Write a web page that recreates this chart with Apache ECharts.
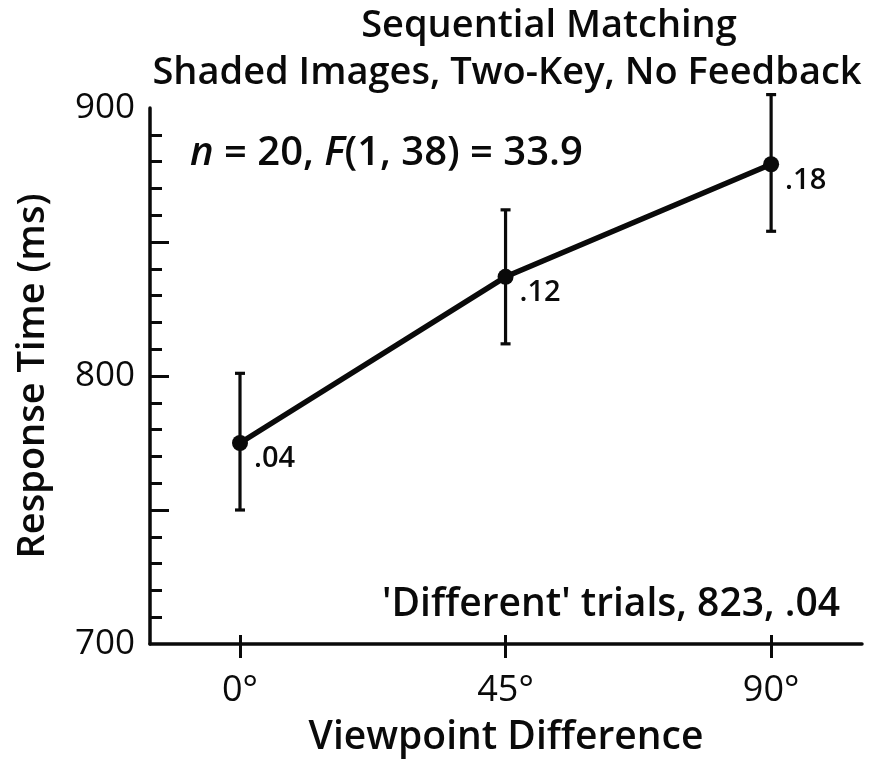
<!DOCTYPE html>
<html><head><meta charset="utf-8">
<script src="https://cdn.jsdelivr.net/npm/echarts@6/dist/echarts.min.js"></script>
<style>html,body{margin:0;padding:0;background:#fff}#c{width:876px;height:762px}</style>
</head><body><div id="c"></div>
<script>
const categories = [0, 45, 90];
const meanRT = [775, 837, 879];
const errLow = [750, 812, 854];
const errHigh = [801, 862, 905];
const errorRates = ['.04', '.12', '.18'];
const yMajorTicks = [750, 800, 850];
const yMinorTicks = [710, 720, 730, 740, 760, 770, 780, 790, 810, 820, 830, 840, 860, 870, 880, 890];
const yLabels = [700, 800, 900];

const FONT = '"Open Sans", sans-serif';
const INK = '#0a0a0a';
const chart = echarts.init(document.getElementById('c'));
const lineData = categories.map((c, i) => [c, meanRT[i], errorRates[i]]);
const errData = categories.map((c, i) => [c, errLow[i], errHigh[i]]);

chart.setOption({
  animation: false,
  title: [
    { text: 'Sequential Matching', left: 544, top: 2, textAlign: 'center',
      textStyle: { fontFamily: FONT, fontSize: 38, fontWeight: 600, color: INK } },
    { text: 'Shaded Images, Two-Key, No Feedback', left: 502, top: 49, textAlign: 'center',
      textStyle: { fontFamily: FONT, fontSize: 38, fontWeight: 600, color: INK } },
    { text: '{i|n}{r| = 20, }{i|F}{r|(1, 38) = 33.9}', left: 185, top: 129,
      textStyle: { fontFamily: FONT, fontSize: 40, fontWeight: '600', color: INK,
        rich: {
          r: { fontFamily: FONT, fontSize: 40, fontWeight: '600', fontStyle: 'normal', color: INK },
          i: { fontFamily: FONT, fontSize: 40, fontWeight: '600', fontStyle: 'italic', color: INK }
        } } },
    { text: "'Different' trials, 823, .04", left: 835, top: 580, textAlign: 'right',
      textStyle: { fontFamily: FONT, fontSize: 39, fontWeight: 600, color: INK } }
  ],
  grid: { left: 150, right: 14, top: 108, bottom: 114 },
  xAxis: [{
    type: 'value', min: -15.25, max: 105.4,
    name: 'Viewpoint Difference', nameLocation: 'middle', nameGap: 74,
    nameTextStyle: { fontFamily: FONT, fontSize: 39, fontWeight: 600, color: INK },
    axisLine: { onZero: false, lineStyle: { color: INK, width: 3.5 } },
    axisTick: { show: true, inside: false, length: 14, lineStyle: { color: INK, width: 3 }, customValues: categories },
    axisLabel: { customValues: categories, formatter: '{value}°', margin: 29,
      fontFamily: FONT, fontSize: 36, fontWeight: 500, color: INK },
    splitLine: { show: false }
  }, {
    type: 'value', min: -15.25, max: 105.4, position: 'bottom',
    axisLine: { show: false, onZero: false },
    axisTick: { show: true, inside: true, length: 9, lineStyle: { color: INK, width: 3 }, customValues: categories },
    axisLabel: { show: false }, splitLine: { show: false }
  }],
  yAxis: [{
    type: 'value', min: 700, max: 900, interval: 100,
    name: 'Response Time (ms)', nameLocation: 'middle', nameGap: 98, nameRotate: 90,
    nameTextStyle: { fontFamily: FONT, fontSize: 38, fontWeight: 600, color: INK },
    axisLine: { show: true, onZero: false, lineStyle: { color: INK, width: 3.5 } },
    axisTick: { show: true, inside: true, length: 19, lineStyle: { color: INK, width: 3 }, customValues: yMajorTicks },
    axisLabel: { customValues: yLabels, margin: 15, fontFamily: FONT, fontSize: 35, fontWeight: 500, color: INK },
    splitLine: { show: false }
  }, {
    type: 'value', min: 700, max: 900, position: 'left',
    axisLine: { show: false, onZero: false },
    axisTick: { show: true, inside: true, length: 12, lineStyle: { color: INK, width: 3 }, customValues: yMinorTicks },
    axisLabel: { show: false }, splitLine: { show: false }
  }],
  series: [{
    type: 'custom', xAxisIndex: 0, yAxisIndex: 0, clip: false, z: 3,
    data: errData,
    renderItem: function (params, api) {
      const x = api.value(0);
      const lo = api.coord([x, api.value(1)]);
      const hi = api.coord([x, api.value(2)]);
      const hw = 5;
      const st = { stroke: INK, lineWidth: 3.2 };
      return { type: 'group', children: [
        { type: 'line', shape: { x1: lo[0], y1: lo[1], x2: hi[0], y2: hi[1] }, style: st },
        { type: 'line', shape: { x1: lo[0] - hw, y1: lo[1], x2: lo[0] + hw, y2: lo[1] }, style: st },
        { type: 'line', shape: { x1: hi[0] - hw, y1: hi[1], x2: hi[0] + hw, y2: hi[1] }, style: st }
      ] };
    }
  }, {
    type: 'line', xAxisIndex: 0, yAxisIndex: 0, z: 4,
    data: lineData,
    symbol: 'circle', symbolSize: 16,
    lineStyle: { color: INK, width: 5.5 },
    itemStyle: { color: INK },
    label: { show: true, position: 'right', distance: 6, offset: [0, 16],
      formatter: p => p.value[2], fontFamily: FONT, fontSize: 29, fontWeight: 600, color: INK }
  }]
});
</script></body></html>
